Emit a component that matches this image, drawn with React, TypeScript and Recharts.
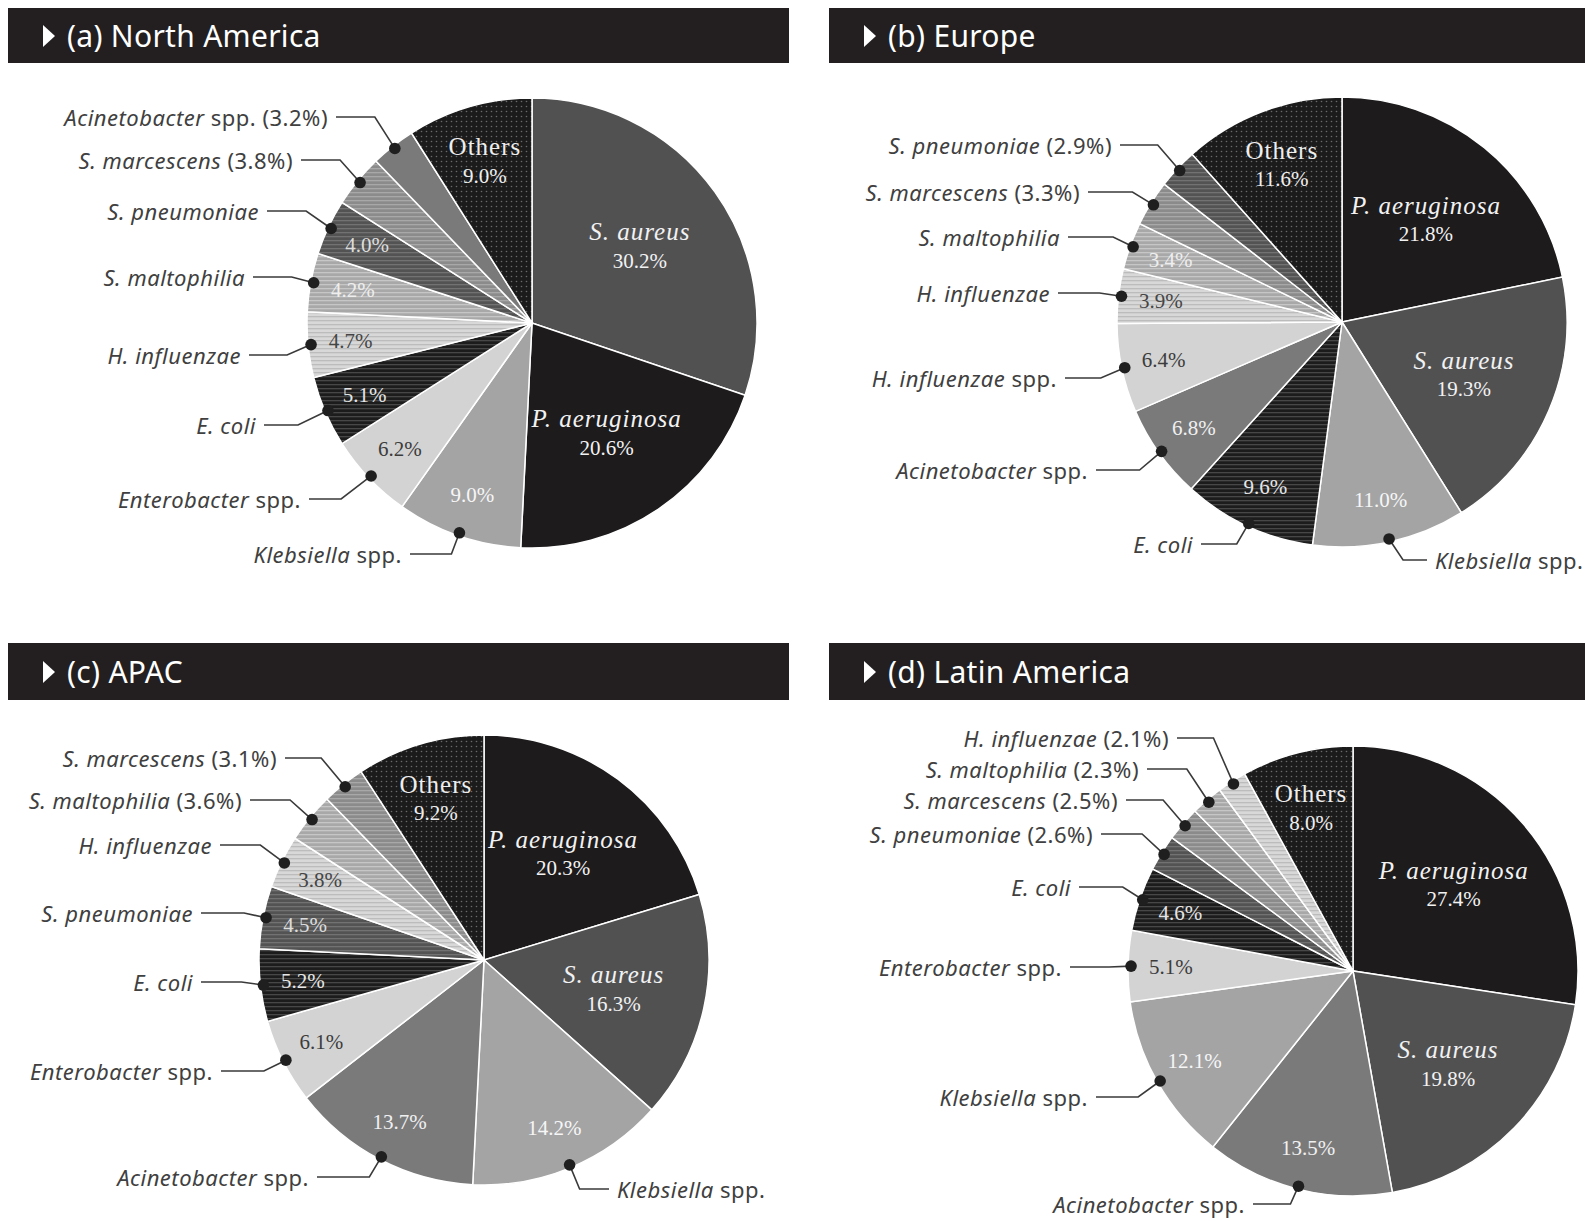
import React from 'react';
import { PieChart, Pie, Cell } from 'recharts';

// (a) North America
const naNames = ['S. aureus', 'P. aeruginosa', 'Klebsiella spp.', 'Enterobacter spp.', 'E. coli', 'H. influenzae', 'S. maltophilia', 'S. pneumoniae', 'S. marcescens', 'Acinetobacter spp.', 'Others'];
const naValues = [30.2, 20.6, 9.0, 6.2, 5.1, 4.7, 4.2, 4.0, 3.8, 3.2, 9.0];

// (b) Europe
const euNames = ['P. aeruginosa', 'S. aureus', 'Klebsiella spp.', 'E. coli', 'Acinetobacter spp.', 'H. influenzae spp.', 'H. influenzae', 'S. maltophilia', 'S. marcescens', 'S. pneumoniae', 'Others'];
const euValues = [21.8, 19.3, 11.0, 9.6, 6.8, 6.4, 3.9, 3.4, 3.3, 2.9, 11.6];

// (c) APAC
const apNames = ['P. aeruginosa', 'S. aureus', 'Klebsiella spp.', 'Acinetobacter spp.', 'Enterobacter spp.', 'E. coli', 'S. pneumoniae', 'H. influenzae', 'S. maltophilia', 'S. marcescens', 'Others'];
const apValues = [20.3, 16.3, 14.2, 13.7, 6.1, 5.2, 4.5, 3.8, 3.6, 3.1, 9.2];

// (d) Latin America
const laNames = ['P. aeruginosa', 'S. aureus', 'Acinetobacter spp.', 'Klebsiella spp.', 'Enterobacter spp.', 'E. coli', 'S. pneumoniae', 'S. marcescens', 'S. maltophilia', 'H. influenzae', 'Others'];
const laValues = [27.4, 19.8, 13.5, 12.1, 5.1, 4.6, 2.6, 2.5, 2.3, 2.1, 8.0];

// callout layout (page coords): name, text x (end, or start when right of dot), text y, elbow, pct in callout
type Callout = [string, number, number, number, boolean];

const naCallouts: Callout[] = [
    ['Acinetobacter spp.', 328, 117, 20, true],
    ['S. marcescens', 293, 160, 20, true],
    ['S. pneumoniae', 259, 211, 25, false],
    ['S. maltophilia', 245, 277, 22, false],
    ['H. influenzae', 241, 355, 24, false],
    ['E. coli', 256, 425, 30, false],
    ['Enterobacter spp.', 301, 499, 30, false],
    ['Klebsiella spp.', 402, 554, 8, false],
];

const euCallouts: Callout[] = [
    ['S. pneumoniae', 1112, 145, 22, true],
    ['S. marcescens', 1080, 192, 21, true],
    ['S. maltophilia', 1060, 237, 20, false],
    ['H. influenzae', 1050, 293, 22, false],
    ['H. influenzae spp.', 1057, 378, 24, false],
    ['Acinetobacter spp.', 1088, 470, 22, false],
    ['E. coli', 1193, 544, 12, false],
    ['Klebsiella spp.', 1435, 560, 14, false],
];

const apCallouts: Callout[] = [
    ['S. marcescens', 277, 758, 24, true],
    ['S. maltophilia', 242, 800, 22, true],
    ['H. influenzae', 212, 845, 24, false],
    ['S. pneumoniae', 193, 913, 22, false],
    ['E. coli', 193, 982, 22, false],
    ['Enterobacter spp.', 213, 1071, 22, false],
    ['Acinetobacter spp.', 309, 1177, 12, false],
    ['Klebsiella spp.', 617, 1189, 10, false],
];

const laCallouts: Callout[] = [
    ['H. influenzae', 1169, 738, 20, true],
    ['S. maltophilia', 1139, 769, 22, true],
    ['S. marcescens', 1118, 800, 22, true],
    ['S. pneumoniae', 1093, 834, 22, true],
    ['E. coli', 1071, 887, 20, false],
    ['Enterobacter spp.', 1062, 967, 22, false],
    ['Klebsiella spp.', 1088, 1097, 22, false],
    ['Acinetobacter spp.', 1245, 1204, 8, false],
];

// slice looks, shared by all four pies
const SLICE_STYLE: Record<string, { fill: string; lines?: string; dots?: string; text: string }> = {
    'S. aureus': { fill: '#515152', text: '#f2f2f2' },
    'P. aeruginosa': { fill: '#1d1b1c', text: '#f2f2f2' },
    'Klebsiella spp.': { fill: '#a4a4a5', text: '#f6f6f6' },
    'Acinetobacter spp.': { fill: '#7a7a7b', text: '#f0f0f0' },
    'Enterobacter spp.': { fill: '#d3d3d3', text: '#3c3c3c' },
    'H. influenzae spp.': { fill: '#d3d3d3', text: '#3c3c3c' },
    'E. coli': { fill: '#1c1c1c', lines: '#474747', text: '#e6e6e6' },
    'H. influenzae': { fill: '#d8d8d8', lines: '#bcbcbc', text: '#454545' },
    'S. maltophilia': { fill: '#a8a8a8', lines: '#c6c6c6', text: '#eeeeee' },
    'S. pneumoniae': { fill: '#535353', lines: '#727272', text: '#dddddd' },
    'S. marcescens': { fill: '#8b8b8b', lines: '#a8a8a8', text: '#eeeeee' },
    'Others': { fill: '#1b1b1b', dots: '#6a6a6a', text: '#eeeeee' },
};

const BIG = ['S. aureus', 'P. aeruginosa', 'Others'];
const SERIF = '"Liberation Serif", "DejaVu Serif", serif';
const SANS = '"Noto Sans", "Open Sans", sans-serif';
const R = 225;
const RAD = Math.PI / 180;

const slug = (s: string) => s.replace(/[^a-z]/gi, '');

const polar = (cx: number, cy: number, r: number, angle: number) => [
    cx + r * Math.cos(-angle * RAD),
    cy + r * Math.sin(-angle * RAD),
];

const PANELS = [
    { id: 'na', title: '(a) North America', names: naNames, values: naValues, callouts: naCallouts, left: 0, top: 0, width: 800, height: 630, cx: 527, cy: 318, hx: 8, hy: 8, hw: 781, hh: 55 },
    { id: 'eu', title: '(b) Europe', names: euNames, values: euValues, callouts: euCallouts, left: 800, top: 0, width: 785, height: 630, cx: 537, cy: 317, hx: 829, hy: 8, hw: 756, hh: 55 },
    { id: 'ap', title: '(c) APAC', names: apNames, values: apValues, callouts: apCallouts, left: 0, top: 630, width: 800, height: 591, cx: 479, cy: 325, hx: 8, hy: 643, hw: 781, hh: 57 },
    { id: 'la', title: '(d) Latin America', names: laNames, values: laValues, callouts: laCallouts, left: 800, top: 630, width: 785, height: 591, cx: 548, cy: 336, hx: 829, hy: 643, hw: 756, hh: 57 },
];

type Panel = typeof PANELS[number];

// species name italic, "spp." and percentages upright
const CalloutText = ({ name, pct }: { name: string; pct?: string }) => {
    const spp = name.endsWith(' spp.');
    const italicPart = spp ? name.slice(0, -5) : name;
    return (
        <>
            <tspan fontStyle="italic">{italicPart}</tspan>
            {spp && <tspan> spp.</tspan>}
            {pct && <tspan> ({pct})</tspan>}
        </>
    );
};

const makeLabel = (panel: Panel) => (props: any) => {
    const { cx, cy, midAngle, outerRadius, index } = props;
    const name = panel.names[index];
    const value = panel.values[index];
    const look = SLICE_STYLE[name];
    const pct = `${value.toFixed(1)}%`;
    const callout = panel.callouts.find((c) => c[0] === name);
    const parts: React.ReactNode[] = [];

    if (BIG.includes(name)) {
        const [x, y] = polar(cx, cy, outerRadius * (name === 'Others' ? 0.75 : 0.59), midAngle);
        parts.push(
            <text key="n" x={x} y={y - 14} textAnchor="middle" dominantBaseline="central" fontFamily={SERIF}
                fontSize={25} fontStyle={name === 'Others' ? 'normal' : 'italic'} letterSpacing={1} fill={look.text}>
                {name}
            </text>,
            <text key="p" x={x} y={y + 15} textAnchor="middle" dominantBaseline="central" fontFamily={SERIF}
                fontSize={21} fill={look.text}>
                {pct}
            </text>
        );
    } else if (!callout || !callout[4]) {
        const [x, y] = polar(cx, cy, outerRadius * 0.81, midAngle);
        parts.push(
            <text key="p" x={x} y={y} textAnchor="middle" dominantBaseline="central" fontFamily={SERIF}
                fontSize={21} fill={look.text}>
                {pct}
            </text>
        );
    }

    if (callout) {
        const [, px, py, elbow, withPct] = callout;
        const [dx, dy] = polar(cx, cy, outerRadius - 3, midAngle);
        const tx = px - panel.left;
        const ty = py - panel.top;
        const leftSide = tx < dx;
        const lineStart = leftSide ? tx + 8 : tx - 8;
        const ex = leftSide ? dx - elbow : dx + elbow;
        parts.push(
            <polyline key="l" points={`${lineStart},${ty} ${ex},${ty} ${dx},${dy}`} fill="none" stroke="#3a3a3a" strokeWidth={1.6} />,
            <circle key="d" cx={dx} cy={dy} r={5.8} fill="#1f1f1f" />,
            <text key="t" x={tx} y={ty} textAnchor={leftSide ? 'end' : 'start'} dominantBaseline="central"
                fontFamily={SANS} fontSize={22} letterSpacing={0.5} fill="#404040">
                <CalloutText name={name} pct={withPct ? pct : undefined} />
            </text>
        );
    }
    return <g>{parts}</g>;
};

const PiePanel = ({ panel }: { panel: Panel }) => {
    const data = panel.names.map((name, i) => ({ name, value: panel.values[i] }));
    const fillOf = (name: string) => {
        const look = SLICE_STYLE[name];
        return look.lines || look.dots ? `url(#${panel.id}-${slug(name)})` : look.fill;
    };
    return (
        <div style={{ position: 'absolute', left: panel.left, top: panel.top }}>
            <PieChart width={panel.width} height={panel.height}>
                <defs>
                    {panel.names.filter((n) => SLICE_STYLE[n].lines).map((n) => (
                        <pattern key={n} id={`${panel.id}-${slug(n)}`} width={4} height={4} patternUnits="userSpaceOnUse">
                            <rect width={4} height={4} fill={SLICE_STYLE[n].fill} />
                            <rect width={4} height={1.3} fill={SLICE_STYLE[n].lines} />
                        </pattern>
                    ))}
                    {panel.names.filter((n) => SLICE_STYLE[n].dots).map((n) => (
                        <pattern key={n} id={`${panel.id}-${slug(n)}`} width={5} height={5} patternUnits="userSpaceOnUse">
                            <rect width={5} height={5} fill={SLICE_STYLE[n].fill} />
                            <circle cx={1.5} cy={1.5} r={0.8} fill={SLICE_STYLE[n].dots} />
                        </pattern>
                    ))}
                </defs>
                <Pie
                    data={data}
                    dataKey="value"
                    nameKey="name"
                    cx={panel.cx}
                    cy={panel.cy}
                    outerRadius={R}
                    startAngle={90}
                    endAngle={-270}
                    stroke="#ffffff"
                    strokeWidth={1.5}
                    labelLine={false}
                    label={makeLabel(panel)}
                    isAnimationActive={false}
                >
                    {data.map((d) => (
                        <Cell key={d.name} fill={fillOf(d.name)} stroke="#ffffff" strokeWidth={1.5} />
                    ))}
                </Pie>
            </PieChart>
        </div>
    );
};

const Header = ({ panel }: { panel: Panel }) => (
    <div
        style={{
            position: 'absolute', left: panel.hx, top: panel.hy, width: panel.hw, height: panel.hh,
            background: '#231f20', color: '#ffffff', fontFamily: SANS, fontSize: 30,
            display: 'flex', alignItems: 'center', boxSizing: 'border-box', paddingLeft: 35,
        }}
    >
        <span style={{ width: 0, height: 0, borderTop: '11px solid transparent', borderBottom: '11px solid transparent', borderLeft: '12px solid #ffffff', marginRight: 12 }} />
        <span style={{ letterSpacing: 0.3 }}>{panel.title}</span>
    </div>
);

export default function App() {
    return (
        <div style={{ position: 'absolute', left: 0, top: 0, width: 1585, height: 1221, background: '#ffffff', overflow: 'hidden' }}>
            {PANELS.map((p) => <PiePanel key={p.id} panel={p} />)}
            {PANELS.map((p) => <Header key={p.id} panel={p} />)}
        </div>
    );
}
